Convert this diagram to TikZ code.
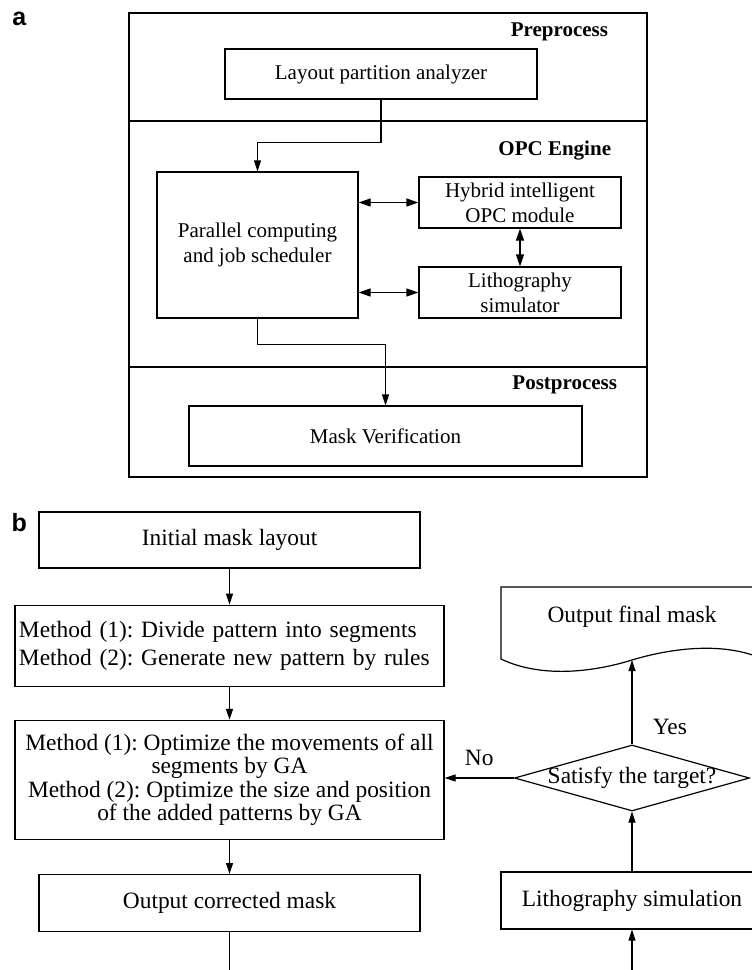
\documentclass[tikz,border=0pt]{standalone}
\usepackage{fontspec}
\setmainfont{Liberation Serif}
\newfontfamily\panelfont{Liberation Sans}
\usetikzlibrary{arrows.meta,positioning,shapes.geometric}

\begin{document}
\frenchspacing
\begin{tikzpicture}[x=1pt, y=-1pt, line width=1.2pt, >={Triangle[length=11pt,width=7pt]},
  boxa/.style={draw, align=center, inner sep=2pt, font=\fontsize{21}{25}\selectfont},
  boxb/.style={draw, align=center, inner sep=2pt, font=\fontsize{23.4}{28}\selectfont},
  stage/.style={anchor=east, font=\fontsize{21}{25}\selectfont\bfseries},
  panel/.style={inner sep=0pt, font=\panelfont\fontsize{25}{25}\selectfont\bfseries},
  lbl/.style={font=\fontsize{23.4}{28}\selectfont},
  dbl/.style={{Triangle[length=12pt,width=8pt]}-{Triangle[length=12pt,width=8pt]}}]
  \clip (0,0) rectangle (752,970);
  % panel a
  \node[panel] (pa) at (19.3,19.2) {a};
  \draw (129,13) rectangle (647,477);
  \draw (129,121) -- (647,121);
  \draw (129,367) -- (647,367);
  \node[stage] (pre) at (612,32) {Preprocess};
  \node[stage] (opc) at (615,151) {OPC Engine};
  \node[stage] (post) at (621,385) {Postprocess};
  \node[boxa, minimum width=312pt, minimum height=50pt] (lay) at (381,74) {Layout partition analyzer};
  \node[boxa, minimum width=201pt, minimum height=146pt] (par) at (257.5,245) {Parallel computing\\and job scheduler};
  \node[boxa, minimum width=202pt, minimum height=51pt] (hyb) at (520,202.5) {Hybrid intelligent\\OPC module};
  \node[boxa, minimum width=202pt, minimum height=51pt] (lit) at (520,292.5) {Lithography\\simulator};
  \node[boxa, minimum width=393pt, minimum height=60pt] (ver) at (385.5,436) {Mask Verification};
  \draw[->] (lay.south) -- ++(0,43) -| (par.north);
  \draw[->] (par.south) -- ++(0,26) -| (ver.north);
  \draw[dbl] (par.east |- hyb.west) -- (hyb.west);
  \draw[dbl] (par.east |- lit.west) -- (lit.west);
  \draw[dbl] (hyb.south) -- (lit.north);
  % panel b
  \node[panel] (pb) at (19.2,522.5) {b};
  \node[boxb, minimum width=381pt, minimum height=56pt] (ini) at (229.5,540) {Initial mask layout};
  \node[boxb, below=36pt of ini, minimum height=81pt, text width=421pt, inner xsep=4pt, align=left] (div)
    {Method (1): Divide pattern into segments\\Method (2): Generate new pattern by rules};
  \node[boxb, below=33pt of div, minimum width=429pt, minimum height=119pt, font=\fontsize{23.4}{23.3}\selectfont] (opt)
    {Method (1): Optimize the movements of all\\segments by GA\\Method (2): Optimize the size and position\\of the added patterns by GA};
  \node[boxb, below=34pt of opt, minimum width=381pt, minimum height=57pt] (cor) {Output corrected mask};
  \node[boxb, minimum width=262pt, minimum height=57pt] (sim) at (632,900.5) {Lithography simulation};
  \node[draw, diamond, aspect=3.56, minimum width=235pt, minimum height=66pt, inner sep=-3pt, lbl] (sat) at (632,778) {Satisfy the target?};
  \draw (501,659) -- (501,587) -- (763,587) -- (763,659)
    .. controls (720,640) and (665,650) .. (632,660)
    .. controls (600,670) and (545,680) .. (501,659) -- cycle;
  \node[lbl] (fin) at (632,617) {Output final mask};
  \coordinate (finb) at (632,660);
  \coordinate (endl) at (229.5,975);
  \coordinate (endr) at (632,975);
  \draw[->] (ini) -- (div);
  \draw[->] (div) -- (opt);
  \draw[->] (opt) -- (cor);
  \draw (cor) -- (endl);
  \draw[->] (endr) -- (sim);
  \draw[->] (sim) -- (sat);
  \draw[->] (sat) -- node[lbl, right=17pt, pos=0.21] {Yes} (finb);
  \draw[->] (sat.west) -- node[lbl, above=8pt] {No} (opt.east |- sat.west);
\end{tikzpicture}
\end{document}
